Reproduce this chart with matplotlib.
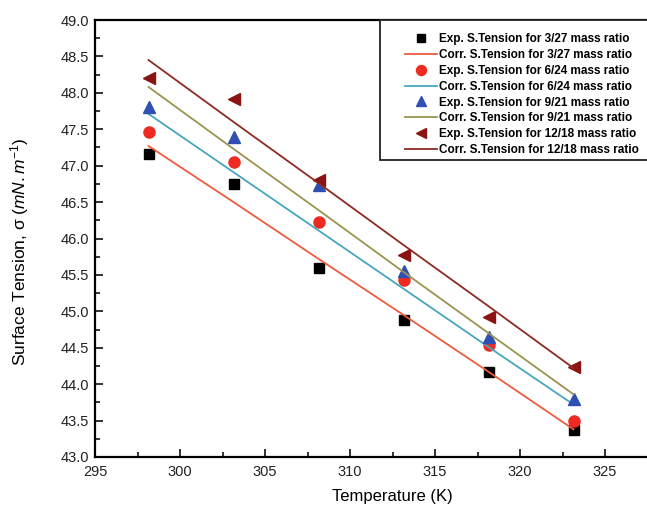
import matplotlib
matplotlib.use('Agg')
import matplotlib.pyplot as plt
import matplotlib.patches as mpatches
from matplotlib.ticker import MultipleLocator, FormatStrFormatter

# temperatures (K)
temps = [298.15, 303.15, 308.15, 313.15, 318.15, 323.15]

# experimental surface tension (mN/m)
exp_3_27 = [47.16, 46.75, 45.59, 44.88, 44.17, 43.37]
exp_6_24 = [47.46, 47.05, 46.22, 45.43, 44.54, 43.49]
exp_9_21 = [47.81, 47.39, 46.74, 45.55, 44.65, 43.79]
exp_12_18 = [48.20, 47.92, 46.80, 45.77, 44.92, 44.24]

# correlated surface tension (mN/m)
corr_3_27 = [47.27, 46.50, 45.72, 44.95, 44.17, 43.38]
corr_6_24 = [47.71, 46.91, 46.11, 45.31, 44.51, 43.72]
corr_9_21 = [48.08, 47.23, 46.39, 45.54, 44.70, 43.86]
corr_12_18 = [48.45, 47.60, 46.76, 45.91, 45.07, 44.22]

x_ticks = [295, 300, 305, 310, 315, 320, 325]

plt.rcParams['font.family'] = ['Liberation Sans', 'DejaVu Sans']
plt.rcParams['mathtext.fontset'] = 'custom'
plt.rcParams['mathtext.rm'] = 'Liberation Sans'
plt.rcParams['mathtext.it'] = 'Liberation Sans:italic'

W, H = 647, 514
fig = plt.figure(figsize=(W / 100, H / 100), dpi=100)
# axes run past the right edge, as in the cropped original
ax = fig.add_axes([95 / W, 57 / H, 595 / W, 437 / H])

ax.plot(temps, exp_3_27, 's', color='black', markersize=6.5, linestyle='none',
        label='Exp. S.Tension for 3/27 mass ratio')
ax.plot(temps, corr_3_27, '-', color='#EE5B3F', linewidth=1.3,
        label='Corr. S.Tension for 3/27 mass ratio')
ax.plot(temps, exp_6_24, 'o', color='#EE2A22', markersize=8, linestyle='none',
        label='Exp. S.Tension for 6/24 mass ratio')
ax.plot(temps, corr_6_24, '-', color='#46A6BE', linewidth=1.3,
        label='Corr. S.Tension for 6/24 mass ratio')
ax.plot(temps, exp_9_21, '^', color='#2F4FB2', markersize=8.5, linestyle='none',
        label='Exp. S.Tension for 9/21 mass ratio')
ax.plot(temps, corr_9_21, '-', color='#9A9450', linewidth=1.3,
        label='Corr. S.Tension for 9/21 mass ratio')
ax.plot(temps, exp_12_18, '<', color='#8A1414', markersize=8.5, linestyle='none',
        label='Exp. S.Tension for 12/18 mass ratio')
ax.plot(temps, corr_12_18, '-', color='#8E2A22', linewidth=1.3,
        label='Corr. S.Tension for 12/18 mass ratio')

ax.set_xlim(295, 330)
ax.set_ylim(43.0, 49.0)
ax.set_xticks(x_ticks)
ax.xaxis.set_minor_locator(MultipleLocator(2.5))
ax.yaxis.set_major_locator(MultipleLocator(0.5))
ax.yaxis.set_minor_locator(MultipleLocator(0.25))
ax.yaxis.set_major_formatter(FormatStrFormatter('%.1f'))
ax.tick_params(which='major', direction='in', length=6, width=1.3, labelsize=10.5,
               colors='#222222')
ax.tick_params(axis='x', which='major', pad=6)
ax.tick_params(axis='y', which='major', pad=4)
ax.tick_params(which='minor', direction='in', length=3.5, width=1.1)
for s in ax.spines.values():
    s.set_linewidth(1.6)

ax.set_xlabel('Temperature (K)', fontsize=12, labelpad=7)
ax.set_ylabel(r'Surface Tension, σ ($mN.m^{-1}$)', fontsize=12.5)
ax.yaxis.set_label_coords(-0.108, 0.47)

# legend box drawn by hand so the left padding matches the original
frame = mpatches.Rectangle((380 / W, 1 - 160 / H), 330 / W, 140 / H,
                           transform=fig.transFigure, facecolor='white',
                           edgecolor='#222222', linewidth=1.3, zorder=5,
                           clip_on=False)
ax.add_patch(frame)
leg = ax.legend(loc='upper left', bbox_to_anchor=(405 / W, 1 - 33 / H),
                bbox_transform=fig.transFigure, borderaxespad=0, borderpad=0,
                prop={'weight': 'bold', 'size': 8.5}, frameon=False,
                handlelength=2.7, handletextpad=0.15, labelspacing=0.33,
                markerscale=0.9)
leg.set_zorder(6)

plt.savefig('out.png', dpi=100)
plt.close(fig)
